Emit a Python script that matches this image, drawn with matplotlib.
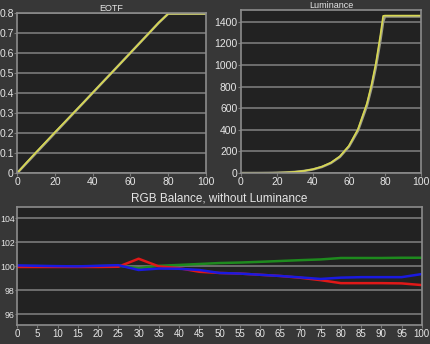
import numpy as np
import matplotlib
matplotlib.use("Agg")
from matplotlib import pyplot as plt

plt.rcParams['font.family'] = ['Liberation Sans', 'DejaVu Sans']

# stimulus levels (%)
steps = [0, 5, 10, 15, 20, 25, 30, 35, 40, 45, 50, 55, 60, 65, 70, 75, 80, 85, 90, 95, 100]

# EOTF tracking
eotf_target = [0, 0.05, 0.10, 0.15, 0.20, 0.25, 0.30, 0.35, 0.40, 0.45, 0.50,
               0.55, 0.60, 0.65, 0.70, 0.75, 0.795, 0.795, 0.795, 0.795, 0.795]
eotf_meas = [0, 0.053, 0.104, 0.154, 0.204, 0.253, 0.302, 0.351, 0.401, 0.451, 0.500,
             0.550, 0.600, 0.650, 0.700, 0.751, 0.795, 0.795, 0.795, 0.795, 0.795]

# luminance (cd/m2)
lum_x = [0, 5, 10, 15, 20, 25, 30, 35, 40, 45, 50, 55, 60, 65, 70, 72.5, 75, 77.5, 79, 80, 85, 90, 95, 100]
lum_target = [0, 0.1, 0.3, 1, 2.4, 5.3, 10, 19, 33, 56, 92, 149, 244, 390, 622, 785, 983, 1230, 1400, 1450,
              1450, 1450, 1450, 1450]
lum_meas = [0, 0.1, 0.3, 1, 2.5, 5.5, 11, 20, 35, 59, 96, 155, 252, 405, 645, 815, 1020, 1280, 1455, 1458,
            1458, 1458, 1458, 1458]

# RGB balance (%)
red = [99.95, 99.95, 99.95, 99.95, 99.95, 99.97, 100.64, 100.0, 99.85, 99.55, 99.45,
       99.4, 99.3, 99.2, 99.05, 98.85, 98.6, 98.6, 98.6, 98.58, 98.44]
green = [100.02, 100.02, 100.0, 100.0, 100.02, 100.05, 99.85, 100.05, 100.12, 100.2, 100.28,
         100.32, 100.38, 100.45, 100.52, 100.58, 100.7, 100.7, 100.7, 100.72, 100.72]
blue = [100.08, 100.05, 100.02, 100.0, 100.05, 100.1, 99.7, 99.82, 99.8, 99.7, 99.45,
        99.4, 99.3, 99.2, 99.08, 98.95, 99.06, 99.1, 99.1, 99.1, 99.36]

BG = '#373737'
FACE = '#222222'
GRID = '#7a7a7a'
TXT = '#e6e6e6'


def style(ax, size=7.5):
    ax.set_facecolor(FACE)
    for s in ax.spines.values():
        s.set_color('#8c8c8c')
        s.set_linewidth(1.2)
    ax.tick_params(colors=GRID, labelcolor=TXT, labelsize=size, length=2, width=0.8, pad=0.5)
    ax.grid(axis='y', color=GRID, linewidth=1.2)
    ax.set_axisbelow(True)


fig = plt.figure(figsize=(4.3, 3.44), dpi=100, facecolor=BG)

ax1 = fig.add_axes([0.040, 0.497, 0.439, 0.466])
style(ax1)
ax1.plot(steps, eotf_target, color='#9a9a88', linewidth=1.8)
ax1.plot(steps, eotf_meas, color='#d8d850', linewidth=1.2)
ax1.set_xlim(0, 100)
ax1.set_ylim(0, 0.8)
ax1.set_xticks(range(0, 101, 20))
ax1.set_yticks(np.arange(0, 0.81, 0.1))
ax1.set_yticklabels(['0', '0.1', '0.2', '0.3', '0.4', '0.5', '0.6', '0.7', '0.8'])
ax1.set_title('EOTF', color=TXT, fontsize=6.5, pad=1.5)

ax2 = fig.add_axes([0.560, 0.497, 0.419, 0.474])
style(ax2)
ax2.plot(lum_x, lum_target, color='#9a9a88', linewidth=1.8)
ax2.plot(lum_x, lum_meas, color='#d8d850', linewidth=1.2)
ax2.set_xlim(0, 100)
ax2.set_ylim(0, 1510)
ax2.set_xticks(range(0, 101, 20))
ax2.set_yticks(range(0, 1401, 200))
ax2.set_title('Luminance', color=TXT, fontsize=6.5, pad=0.5)

ax3 = fig.add_axes([0.040, 0.055, 0.941, 0.343])
style(ax3, size=7)
ax3.tick_params(axis='y', labelsize=6.3, length=1.5, pad=0.2)
ax3.plot(steps, green, color='#1e8a1e', linewidth=1.8)
ax3.plot(steps, red, color='#e01818', linewidth=1.8)
ax3.plot(steps, blue, color='#1a1ae0', linewidth=1.8)
ax3.set_xlim(0, 100)
ax3.set_ylim(95.1, 104.95)
ax3.set_xticks(range(0, 101, 5))
ax3.set_yticks(range(96, 105, 2))
ax3.set_title('RGB Balance, without Luminance', color=TXT, fontsize=8.5, pad=4)

fig.savefig('out.png', facecolor=BG)
